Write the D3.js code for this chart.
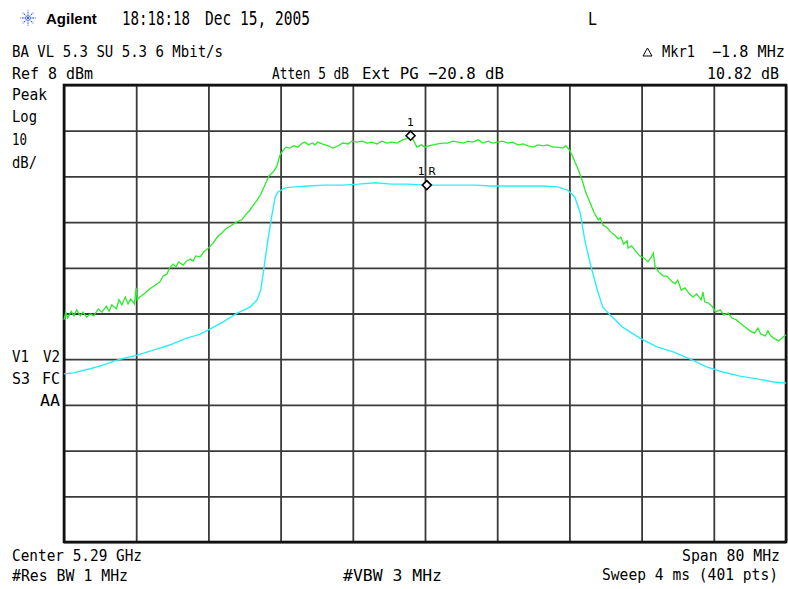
<!DOCTYPE html>
<html><head><meta charset="utf-8">
<script src="https://cdn.jsdelivr.net/npm/d3@7"></script>
<style>
html,body{margin:0;padding:0;background:#fff;}
svg{display:block;}
text{font-family:"DejaVu Sans Mono",monospace;fill:#000;white-space:pre;}
</style></head>
<body>
<div id="chart"></div>
<script>
// ---- Data (frequency offset from 5.29 GHz center, MHz ; level dBm) ----
const gridFreqs = [-40,-32,-24,-16,-8,0,8,16,24,32,40];
const gridLevels = [8,-2,-12,-22,-32,-42,-52,-62,-72,-82,-92];

const peakFreq = [-40.0,-39.8,-39.6,-39.2,-38.9,-38.6,-38.2,-37.9,-37.5,-37.1,
-36.7,-36.2,-35.8,-35.3,-35.0,-34.7,-34.2,-33.9,-33.6,-33.2,
-32.9,-32.6,-32.2,-32.0,-31.9,-31.6,-31.0,-30.5,-29.9,-29.4,
-29.0,-28.6,-28.3,-27.9,-27.6,-27.3,-26.8,-26.4,-26.0,-25.7,
-25.4,-24.9,-24.5,-24.0,-23.5,-22.9,-22.5,-22.1,-21.6,-20.9,
-20.3,-19.8,-19.4,-19.1,-18.6,-18.2,-17.7,-17.3,-16.8,-16.4,
-16.1,-15.7,-15.4,-15.0,-14.5,-14.1,-13.6,-13.3,-12.9,-12.5,
-12.2,-11.9,-11.4,-10.7,-10.2,-9.6,-9.1,-8.5,-8.1,-7.5,
-7.0,-6.4,-5.9,-5.3,-4.8,-4.2,-3.7,-3.1,-2.5,-2.1,
-1.6,-1.3,-0.9,-0.4,0.0,0.4,0.9,1.4,2.0,2.5,
3.1,3.7,4.2,4.8,5.3,5.9,6.4,7.0,7.5,8.1,
8.6,9.2,9.7,10.3,10.9,11.4,12.0,12.5,13.1,13.6,
14.2,14.7,15.3,15.6,16.0,16.3,16.6,17.0,17.4,17.8,
18.3,18.7,19.2,19.4,19.7,20.2,20.6,21.1,21.4,21.7,
22.0,22.4,22.5,22.9,23.4,23.8,24.3,24.7,25.0,25.3,
25.5,25.9,26.4,26.8,27.3,27.7,28.0,28.4,28.8,29.3,
29.7,30.1,30.6,30.8,31.0,31.4,31.8,32.2,32.7,33.1,
33.6,34.0,34.5,34.9,35.5,36.0,36.5,36.9,37.2,37.7,
38.0,38.3,38.8,39.2,39.7,40.0];
const peakLevel = [-43.4,-41.7,-43.0,-41.5,-42.5,-41.2,-42.5,-41.7,-42.8,-42.1,
-42.5,-41.0,-41.7,-40.4,-41.5,-40.1,-41.0,-39.0,-40.1,-38.4,
-39.9,-38.8,-39.9,-36.4,-39.0,-38.4,-37.5,-36.6,-35.8,-35.1,
-33.8,-33.4,-32.0,-31.2,-31.8,-30.7,-31.4,-30.5,-30.1,-30.5,
-29.4,-29.6,-28.5,-27.7,-26.6,-25.0,-24.4,-23.5,-22.9,-22.0,
-21.5,-20.2,-19.4,-18.5,-17.2,-15.9,-13.7,-11.9,-11.0,-9.7,
-7.5,-6.2,-5.6,-5.8,-5.3,-5.6,-4.7,-4.5,-5.1,-4.7,
-5.1,-4.5,-4.9,-5.3,-5.8,-5.3,-4.7,-4.9,-4.3,-4.5,
-4.3,-4.7,-4.5,-4.9,-4.3,-4.7,-4.5,-4.7,-4.0,-3.8,
-3.1,-4.0,-5.6,-5.1,-5.6,-5.3,-5.1,-4.9,-4.7,-4.7,
-4.3,-4.5,-4.7,-4.3,-4.5,-4.0,-4.7,-4.3,-4.7,-4.5,
-4.3,-4.7,-4.5,-5.1,-4.9,-5.3,-5.6,-5.1,-5.3,-5.1,
-5.6,-5.6,-5.8,-5.3,-6.2,-7.3,-8.8,-10.6,-12.8,-15.4,
-17.8,-19.8,-21.5,-21.1,-22.6,-23.3,-24.2,-25.0,-25.7,-25.3,
-26.8,-26.1,-27.7,-27.2,-28.5,-29.4,-29.9,-30.7,-29.9,-28.8,
-31.8,-32.9,-33.8,-33.8,-34.9,-35.5,-34.7,-36.9,-36.4,-37.7,
-38.4,-37.7,-39.0,-37.3,-39.5,-39.7,-40.4,-41.7,-41.2,-42.3,
-41.9,-43.0,-43.4,-44.1,-45.0,-45.8,-46.3,-45.2,-46.5,-46.9,
-45.8,-46.9,-47.6,-48.0,-47.1,-46.7];

const avgFreq = [-40.0,-39.0,-37.1,-35.7,-33.8,-31.9,-30.1,-28.3,-26.4,-24.9,
-24.0,-22.4,-20.8,-19.4,-18.6,-18.2,-17.8,-17.4,-17.0,-16.6,
-16.3,-15.5,-14.4,-13.0,-11.1,-9.2,-7.4,-5.5,-3.7,-1.9,
0.2,1.9,3.7,5.5,7.4,9.2,11.1,13.0,14.7,15.8,
16.6,17.2,17.7,18.3,19.1,19.7,20.5,21.9,23.8,25.7,
27.5,29.4,31.2,33.0,34.9,36.8,38.6,40.0];
const avgLevel = [-55.2,-55.0,-54.1,-53.3,-52.0,-51.1,-50.0,-48.9,-47.4,-46.5,
-45.6,-43.9,-41.9,-40.6,-39.0,-36.9,-31.4,-25.9,-20.9,-16.5,
-15.4,-14.5,-14.3,-14.1,-13.9,-13.9,-13.7,-13.4,-13.7,-13.7,
-13.9,-13.9,-13.9,-13.9,-14.1,-14.1,-14.1,-14.1,-14.3,-15.0,
-16.5,-20.0,-25.9,-31.0,-36.9,-40.6,-42.3,-45.0,-47.4,-49.3,
-50.4,-52.0,-53.7,-54.8,-55.7,-56.3,-57.0,-57.2];

const markerLabels = ["1","1 R"];
const markerFreqs = [-1.6, 0.2];
const markerLevels = [-3.1, -13.9];

// ---- Layout ----
const W = 788, H = 589;
const L = 64, R = 786, T = 85, B = 542;

const svg = d3.select("#chart").append("svg").attr("width", W).attr("height", H);
svg.append("rect").attr("width", W).attr("height", H).attr("fill", "#fff");

const x = d3.scaleLinear().domain([-40, 40]).range([L, R]);
const y = d3.scaleLinear().domain([-92, 8]).range([B, T]);

// grid via axes
const gx = svg.append("g").attr("transform", `translate(0,${B})`)
  .call(d3.axisBottom(x).tickValues(gridFreqs).tickSize(-(B - T)).tickFormat(""));
const gy = svg.append("g").attr("transform", `translate(${L},0)`)
  .call(d3.axisLeft(y).tickValues(gridLevels).tickSize(-(R - L)).tickFormat(""));
[gx, gy].forEach(g => {
  g.select(".domain").remove();
  g.selectAll(".tick line").attr("stroke", "#3a3a3a").attr("stroke-width", 1.8);
});
svg.append("rect").attr("x", L).attr("y", T).attr("width", R - L).attr("height", B - T)
  .attr("fill", "none").attr("stroke", "#111").attr("stroke-width", 2.6);

// traces
const line = d3.line().x(d => x(d[0])).y(d => y(d[1]));
svg.append("path").datum(avgFreq.map((f, i) => [f, avgLevel[i]]))
  .attr("d", line).attr("fill", "none").attr("stroke", "#2aeefa").attr("stroke-width", 1.4);
svg.append("path").datum(peakFreq.map((f, i) => [f, peakLevel[i]]))
  .attr("d", line).attr("fill", "none").attr("stroke", "#2aec2a").attr("stroke-width", 1.3);

// markers
markerFreqs.forEach((f, i) => {
  const cx = x(f), cy = y(markerLevels[i]);
  svg.append("path").attr("d", `M${cx},${cy-4.5}L${cx+4.5},${cy}L${cx},${cy+4.5}L${cx-4.5},${cy}Z`)
    .attr("fill", "#fff").attr("stroke", "#000").attr("stroke-width", 1.6);
  svg.append("text").attr("x", cx).attr("y", cy - 10)
    .attr("text-anchor", "middle").style("font-size", "11px")
    .style("font-family", "'DejaVu Sans',sans-serif").text(markerLabels[i]);
});

// Agilent logo
const logo = svg.append("g").attr("transform", "translate(28,18)");
for (let k = 0; k < 8; k++) {
  const a = k * Math.PI / 4;
  logo.append("line").attr("x1", 2 * Math.cos(a)).attr("y1", 2 * Math.sin(a))
    .attr("x2", 7.5 * Math.cos(a)).attr("y2", 7.5 * Math.sin(a))
    .attr("stroke", "#3a5ee0").attr("stroke-width", 1.3).attr("stroke-dasharray", "1.4,1");
}
logo.append("circle").attr("r", 1.4).attr("fill", "#3a5ee0");
svg.append("text").attr("x", 46).attr("y", 24).text("Agilent")
  .style("font-family", "'Liberation Sans',Arial,sans-serif").style("font-weight", "bold")
  .style("font-size", "15px");

// texts: [text, x, baseline, width, size]
const labels = [
  ["18:18:18", 122, 25, 68, 19],
  ["Dec 15, 2005", 205, 25, 105, 19],
  ["L", 588, 25, 9, 17],
  ["BA VL 5.3 SU 5.3 6 Mbit/s", 12, 57, 211, 16],
  ["Mkr1", 662, 57, 33, 16],
  ["\u22121.8 MHz", 712, 57, 73, 15],
  ["Ref 8 dBm", 12, 79, 81, 16],
  ["Atten 5 dB", 272, 79, 77, 16],
  ["Ext PG \u221220.8 dB", 362, 79, 142, 16],
  ["10.82 dB", 707, 79, 72, 15.5],
  ["Peak", 12, 100, 35, 16],
  ["Log", 12, 122, 25, 16],
  ["10", 12, 145, 15, 16],
  ["dB/", 12, 168, 25, 16],
  ["V1", 12, 362, 17, 16],
  ["V2", 43, 362, 17, 16],
  ["S3", 12, 384, 18, 16],
  ["FC", 42, 384, 18, 16],
  ["AA", 40, 406, 20, 16],
  ["Center 5.29 GHz", 12, 561, 130, 16],
  ["Span 80 MHz", 682, 561, 98, 16],
  ["#Res BW 1 MHz", 12, 581, 116, 16],
  ["#VBW 3 MHz", 343, 581, 99, 16],
  ["Sweep 4 ms (401 pts)", 602, 580, 176, 15]
];
labels.forEach(d => {
  svg.append("text").attr("x", d[1]).attr("y", d[2]).text(d[0])
    .attr("textLength", d[3]).attr("lengthAdjust", "spacingAndGlyphs")
    .style("font-size", d[4] + "px");
});
// delta triangle
svg.append("path").attr("d", "M643,56L652,56L647.5,48Z").attr("fill", "none")
  .attr("stroke", "#000").attr("stroke-width", 1);
</script>
</body></html>
